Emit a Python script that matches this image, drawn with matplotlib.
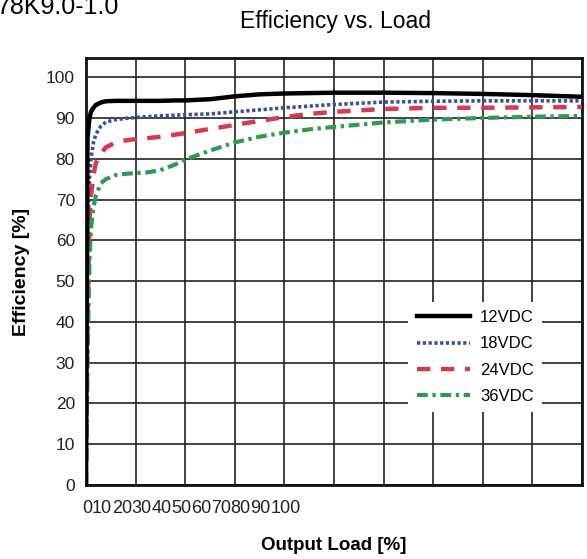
import numpy as np
import matplotlib
matplotlib.use("Agg")
import matplotlib.pyplot as plt

# --- data ---
load = [0, 0.3, 0.7, 1, 1.5, 2, 3, 4, 6, 8, 10, 12, 15, 18, 20, 25, 30, 35,
        40, 45, 50, 60, 70, 80, 90, 100]
eff_12 = [0, 85, 90, 91.5, 92.5, 93.2, 93.8, 94.1, 94.2, 94.2, 94.2, 94.2, 94.2,
          94.3, 94.3, 94.6, 95.3, 95.8, 96.0, 96.1, 96.2, 96.2, 96.1, 95.9, 95.6, 95.2]
eff_18 = [0, 60, 75, 80, 84, 86, 88, 89, 89.6, 89.9, 90.1, 90.3, 90.5, 90.7,
          90.8, 91.0, 91.5, 92.0, 92.5, 92.9, 93.3, 93.9, 94.1, 94.2, 94.2, 94.2]
eff_24 = [0, 40, 65, 71, 76, 79, 81.3, 82.8, 84, 84.5, 84.8, 85, 85.4, 85.9,
          86.3, 87.3, 88.3, 89.3, 90.2, 91.0, 91.5, 92.2, 92.5, 92.5, 92.6, 92.7]
eff_36 = [0, 30, 55, 63, 68, 71, 74, 75, 76, 76.3, 76.5, 76.6, 77.2, 78.6,
          79.8, 82, 84, 85.4, 86.4, 87.2, 87.8, 88.9, 89.6, 90.0, 90.3, 90.5]
series_names = ["12VDC", "18VDC", "24VDC", "36VDC"]
x_tick_labels = ["0", "10", "20", "30", "40", "50", "60", "70", "80", "90", "100"]
y_ticks = [0, 10, 20, 30, 40, 50, 60, 70, 80, 90, 100]

plt.rcParams["font.family"] = ["Liberation Sans", "DejaVu Sans"]

fig = plt.figure(figsize=(5.87, 5.59), dpi=100)
ax = fig.add_axes([0.1465, 0.1324, 0.845, 0.7638])

ax.plot(load, eff_12, color="black", lw=3.2, label=series_names[0], zorder=5)
ax.plot(load, eff_18, color="#3c4f9c", lw=2.6, ls=(0, (0.9, 0.7)),
        label=series_names[1], zorder=4)
ax.plot(load, eff_24, color="#d43b4f", lw=3.2, ls=(0, (3, 2.4)),
        label=series_names[2], zorder=4)
ax.plot(load, eff_36, color="#2e9b53", lw=3.0, ls=(0, (2.6, 1.1, 0.8, 1.1)),
        label=series_names[3], zorder=4)

ax.set_xlim(0, 100)
ax.set_ylim(0, 104.7)

# in the source the tick labels are run together at the far left while the
# grid spans the full width -> place them side by side from their lengths
char_w = 2.0      # one digit, in x-axis units
widths = np.array([len(t) for t in x_tick_labels]) * char_w
lefts = np.concatenate([[0], np.cumsum(widths)[:-1]])
tick_pos = lefts + widths / 2 - 0.8
ax.set_xticks(tick_pos, x_tick_labels)
ax.set_xticks(np.arange(0, 101, 10), minor=True)
ax.set_yticks(y_ticks)
ax.tick_params(axis="both", which="both", length=0, labelsize=13, colors="#222222")
ax.tick_params(axis="x", pad=11)
ax.tick_params(axis="y", pad=8, labelsize=12.5)

ax.grid(False)
ax.xaxis.grid(True, which="minor", color="#222222", lw=1.2)
ax.yaxis.grid(True, which="major", color="#222222", lw=1.2)
ax.set_axisbelow(True)
for s in ax.spines.values():
    s.set_linewidth(2)
    s.set_color("#111111")

leg = ax.legend(loc="upper left", bbox_to_anchor=(0.65, 0.429), fontsize=12,
                handlelength=3.2, frameon=True, fancybox=False, framealpha=1,
                edgecolor="none", facecolor="white", labelspacing=0.68,
                borderpad=0.5, borderaxespad=0, handletextpad=0.6)
leg.set_zorder(10)

ax.set_xlabel("Output Load [%]", fontsize=13.5, fontweight="bold", va="center")
ax.xaxis.set_label_coords(0.5, -61 / 427)
ax.set_ylabel("Efficiency [%]", fontsize=14, fontweight="bold", va="center")
ax.yaxis.set_label_coords(-64 / 496, 0.5)
fig.text(0.572, 0.962, "Efficiency vs. Load", fontsize=16.5, ha="center", va="center")
fig.text(-0.006, 0.987, "78K9.0-1.0", fontsize=18, ha="left", va="center")

fig.savefig("out.png", dpi=100)
